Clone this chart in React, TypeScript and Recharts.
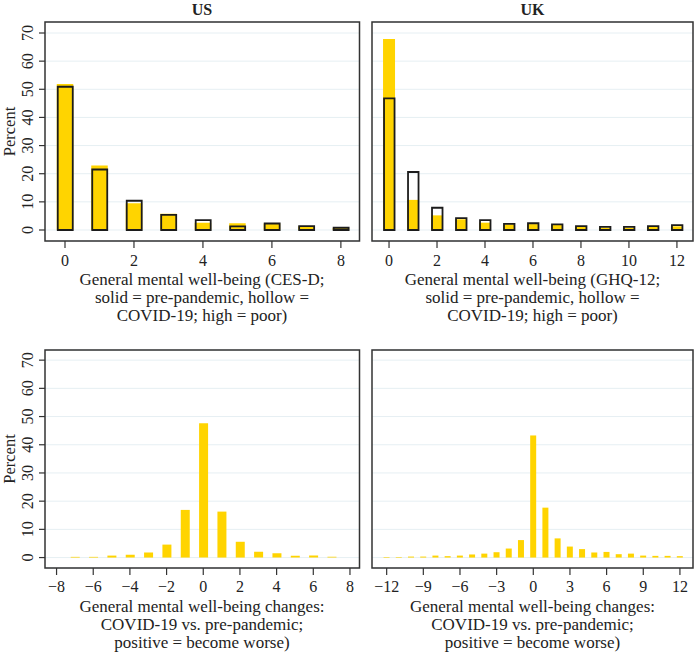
import React from 'react';
import {
  BarChart,
  Bar,
  XAxis,
  YAxis,
  CartesianGrid,
  ReferenceArea,
} from 'recharts';

const FONT = '"Liberation Serif", "Times New Roman", serif';
const YELLOW = '#FFD400';
const INK = '#222222';
const FRAME = '#333333';
const GRID = '#E6EFF3';

// top row: score distributions (solid = pre-pandemic, hollow = COVID-19)
const usScore = [0, 1, 2, 3, 4, 5, 6, 7, 8];
const usPre = [51.9, 22.9, 9.5, 5.8, 2.6, 2.4, 2.3, 1.3, 0.7];
const usCovid = [50.9, 21.5, 10.4, 5.4, 3.5, 1.3, 2.3, 1.4, 0.8];

const ukScore = [0, 1, 2, 3, 4, 5, 6, 7, 8, 9, 10, 11, 12];
const ukPre = [67.9, 10.7, 5.2, 3.8, 2.6, 2.0, 2.1, 1.8, 1.2, 0.8, 0.8, 1.1, 1.3];
const ukCovid = [46.8, 20.6, 7.9, 4.2, 3.5, 2.2, 2.4, 2.0, 1.4, 1.1, 1.1, 1.4, 1.7];

// bottom row: change in score
const usDiff = [-7, -6, -5, -4, -3, -2, -1, 0, 1, 2, 3, 4, 5, 6, 7];
const usDiffPct = [0.25, 0.25, 0.7, 1.0, 1.8, 4.6, 16.9, 47.6, 16.3, 5.6, 2.1, 1.5, 0.6, 0.7, 0.25];

const ukDiff = [-12, -11, -10, -9, -8, -7, -6, -5, -4, -3, -2, -1, 0, 1, 2, 3, 4, 5, 6, 7, 8, 9, 10, 11, 12];
const ukDiffPct = [
  0.2, 0.2, 0.35, 0.35, 0.7, 0.5, 0.7, 1.1, 1.4, 1.9, 3.2, 6.2, 43.3, 17.7, 6.8, 3.9, 3.0, 1.8, 2.0,
  1.2, 1.4, 0.7, 0.6, 0.6, 0.5,
];

const yTicks = [0, 10, 20, 30, 40, 50, 60, 70];
const usTicks = [0, 2, 4, 6, 8];
const ukTicks = [0, 2, 4, 6, 8, 10, 12];
const usDiffTicks = [-8, -6, -4, -2, 0, 2, 4, 6, 8];
const ukDiffTicks = [-12, -9, -6, -3, 0, 3, 6, 9, 12];

const usRows = usScore.map((x, i) => ({ x, pre: usPre[i], covid: usCovid[i] }));
const ukRows = ukScore.map((x, i) => ({ x, pre: ukPre[i], covid: ukCovid[i] }));
const usDiffRows = usDiff.map((x, i) => ({ x, v: usDiffPct[i] }));
const ukDiffRows = ukDiff.map((x, i) => ({ x, v: ukDiffPct[i] }));

const fmt = (v: number) => (v < 0 ? `\u2212${Math.abs(v)}` : `${v}`);

function YTick(props: any) {
  const { y, payload } = props;
  return (
    <text
      transform={`translate(33,${y}) rotate(-90)`}
      textAnchor="middle"
      fontSize={16}
      fontFamily={FONT}
      fill={INK}
    >
      {payload.value}
    </text>
  );
}

interface BarSpec {
  key: string;
  fill: string;
  stroke?: string;
  size: number;
}

interface PanelProps {
  box: { l: number; t: number; r: number; b: number };
  xDomain: [number, number];
  yDomain: [number, number];
  xTicks: number[];
  showY: boolean;
  rows: Record<string, number>[];
  bars: BarSpec[];
  tickGap: number;
}

function Panel({ box, xDomain, yDomain, xTicks, showY, rows, bars, tickGap }: PanelProps) {
  const pad = 4;
  const chartLeft = showY ? 0 : box.l - pad;
  const chartTop = box.t - pad;
  const axisH = 30;
  const width = box.r + pad - chartLeft;
  const height = box.b - chartTop + axisH;
  return (
    <div style={{ position: 'absolute', left: chartLeft, top: chartTop }}>
      <BarChart
        width={width}
        height={height}
        data={rows}
        margin={{ top: pad, right: pad, left: showY ? 0 : pad, bottom: 0 }}
      >
        <CartesianGrid
          xAxisId={bars[0].key}
          horizontal
          vertical={false}
          stroke={GRID}
          strokeWidth={1}
        />
        {bars.map((b, i) => (
          <XAxis
            key={b.key}
            xAxisId={b.key}
            type="number"
            dataKey="x"
            domain={xDomain}
            ticks={xTicks}
            interval={0}
            allowDataOverflow
            hide={i > 0}
            height={i > 0 ? 0 : axisH}
            axisLine={false}
            tickSize={7}
            tickMargin={tickGap}
            tickLine={{ stroke: FRAME, strokeWidth: 1.2 }}
            tickFormatter={fmt}
            tick={{ fill: INK, fontSize: 16, fontFamily: FONT }}
          />
        ))}
        <YAxis
          type="number"
          domain={yDomain}
          ticks={yTicks}
          interval={0}
          allowDataOverflow
          hide={!showY}
          width={showY ? box.l : 0}
          axisLine={false}
          tickSize={6}
          tickLine={{ stroke: FRAME, strokeWidth: 1.2 }}
          tick={<YTick />}
        />
        {bars.map((b) => (
          <Bar
            key={b.key}
            xAxisId={b.key}
            dataKey={b.key}
            barSize={b.size}
            fill={b.fill}
            stroke={b.stroke}
            strokeWidth={b.stroke ? 1.8 : 0}
            isAnimationActive={false}
          />
        ))}
        <ReferenceArea
          xAxisId={bars[0].key}
          x1={xDomain[0]}
          x2={xDomain[1]}
          y1={yDomain[0]}
          y2={yDomain[1]}
          fill="none"
          stroke={FRAME}
          strokeWidth={1.5}
          fillOpacity={0}
          strokeOpacity={1}
        />
      </BarChart>
    </div>
  );
}

const topBars = (big: number): BarSpec[] => [
  { key: 'pre', fill: YELLOW, size: big },
  { key: 'covid', fill: 'none', stroke: '#1c1c1c', size: big - 1.5 },
];

const label = (x: number, y: number, text: string, bold = false) => (
  <text
    x={x}
    y={y}
    textAnchor="middle"
    fontSize={bold ? 16 : 17}
    fontWeight={bold ? 'bold' : 'normal'}
    fontFamily={FONT}
    fill={INK}
  >
    {text}
  </text>
);

export default function App() {
  const topY: [number, number] = [-3.91, 73.91];
  const botY: [number, number] = [-3.7, 73.6];
  return (
    <div style={{ position: 'absolute', left: 0, top: 0, width: 695, height: 652, background: '#fff' }}>
      <Panel
        box={{ l: 45, t: 22, r: 359.5, b: 241 }}
        xDomain={[-0.58, 8.54]}
        yDomain={topY}
        xTicks={usTicks}
        showY
        rows={usRows}
        bars={topBars(16.5)}
        tickGap={7}
      />
      <Panel
        box={{ l: 372, t: 22, r: 693, b: 241 }}
        xDomain={[-0.71, 12.67]}
        yDomain={topY}
        xTicks={ukTicks}
        showY={false}
        rows={ukRows}
        bars={topBars(12)}
        tickGap={7}
      />
      <Panel
        box={{ l: 45, t: 350, r: 359.5, b: 568 }}
        xDomain={[-8.63, 8.52]}
        yDomain={botY}
        xTicks={usDiffTicks}
        showY
        rows={usDiffRows}
        bars={[{ key: 'v', fill: YELLOW, size: 9 }]}
        tickGap={6}
      />
      <Panel
        box={{ l: 372, t: 350, r: 693, b: 568 }}
        xDomain={[-13.2, 13.07]}
        yDomain={botY}
        xTicks={ukDiffTicks}
        showY={false}
        rows={ukDiffRows}
        bars={[{ key: 'v', fill: YELLOW, size: 6 }]}
        tickGap={6}
      />
      <svg
        width={695}
        height={652}
        style={{ position: 'absolute', left: 0, top: 0, pointerEvents: 'none' }}
      >
        {label(202, 15, 'US', true)}
        {label(532.5, 15, 'UK', true)}
        <text
          transform="translate(15,131.5) rotate(-90)"
          textAnchor="middle"
          fontSize={16.5}
          fontFamily={FONT}
          fill={INK}
        >
          Percent
        </text>
        <text
          transform="translate(15,459) rotate(-90)"
          textAnchor="middle"
          fontSize={16.5}
          fontFamily={FONT}
          fill={INK}
        >
          Percent
        </text>
        {label(202, 284.5, 'General mental well-being (CES-D;')}
        {label(202, 302.5, 'solid = pre-pandemic, hollow =')}
        {label(202, 320.5, 'COVID-19; high = poor)')}
        {label(532.5, 284.5, 'General mental well-being (GHQ-12;')}
        {label(532.5, 302.5, 'solid = pre-pandemic, hollow =')}
        {label(532.5, 320.5, 'COVID-19; high = poor)')}
        {label(202, 612, 'General mental well-being changes:')}
        {label(202, 630, 'COVID-19 vs. pre-pandemic;')}
        {label(202, 648, 'positive = become worse)')}
        {label(532.5, 612, 'General mental well-being changes:')}
        {label(532.5, 630, 'COVID-19 vs. pre-pandemic;')}
        {label(532.5, 648, 'positive = become worse)')}
      </svg>
    </div>
  );
}
